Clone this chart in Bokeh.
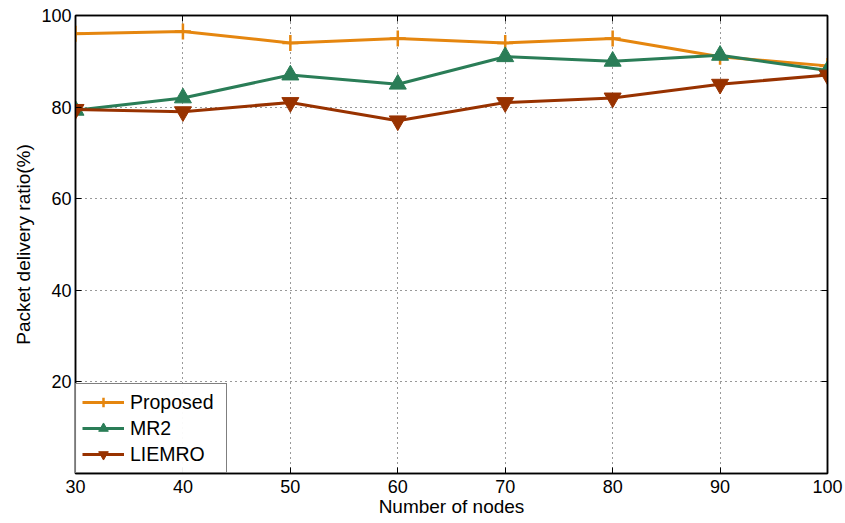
from bokeh.plotting import figure
from bokeh.models import FixedTicker, LinearAxis, Range1d, Legend, LegendItem
from bokeh.embed import file_html
from bokeh.resources import INLINE

nodes = [30, 40, 50, 60, 70, 80, 90, 100]
proposed = [96, 96.5, 94, 95, 94, 95, 91, 89]
mr2 = [79.3, 82, 87, 85, 91, 90, 91.3, 88]
liemro = [79.5, 79, 81, 77, 81, 82, 85, 87]
x_ticks = [30, 40, 50, 60, 70, 80, 90, 100]
y_ticks = [20, 40, 60, 80, 100]

FONT = "Liberation Sans"
C_PROP = "#E5860F"
C_MR2 = "#2A7D57"
C_LIEM = "#983200"

p = figure(width=845, height=523, output_backend="svg", toolbar_location=None,
           x_range=Range1d(30, 100), y_range=Range1d(0, 100),
           min_border_left=75, min_border_right=18, min_border_top=15, min_border_bottom=50)
p.outline_line_color = "black"
p.outline_line_width = 1.5

for ax in (p.xaxis[0], p.yaxis[0]):
    ax.major_tick_in = 6
    ax.major_tick_out = 0
    ax.minor_tick_line_color = None
    ax.major_label_text_font = FONT
    ax.major_label_text_font_size = "18px"
    ax.major_label_text_color = "black"
    ax.axis_label_text_font = FONT
    ax.axis_label_text_font_size = "19px"
    ax.axis_label_text_font_style = "normal"
    ax.axis_label_text_color = "black"
    ax.axis_line_color = "black"
    ax.axis_line_width = 1.5
    ax.major_tick_line_width = 1

p.xaxis.ticker = FixedTicker(ticks=x_ticks)
p.yaxis.ticker = FixedTicker(ticks=y_ticks)
p.xaxis.axis_label = "Number of nodes"
p.yaxis.axis_label = "Packet delivery ratio(%)"
p.xaxis.axis_label_standoff = 0
p.yaxis.axis_label_standoff = 4
p.xaxis.major_label_standoff = 6
p.yaxis.major_label_standoff = 4

for loc, tk in (("right", y_ticks), ("above", x_ticks)):
    a = LinearAxis(ticker=FixedTicker(ticks=tk))
    a.major_tick_in = 6
    a.major_tick_out = 0
    a.minor_tick_line_color = None
    a.major_label_text_color = None
    a.major_label_text_font_size = "1px"
    a.major_label_standoff = 0
    a.axis_line_color = "black"
    a.axis_line_width = 1.5
    p.add_layout(a, loc)

p.xgrid.ticker = FixedTicker(ticks=x_ticks)
p.ygrid.ticker = FixedTicker(ticks=y_ticks)
for g in (p.xgrid, p.ygrid):
    g.grid_line_color = "#333333"
    g.grid_line_dash = "1 4"
    g.grid_line_width = 1

l1 = p.line(nodes, proposed, line_color=C_PROP, line_width=3)
m1 = p.scatter(nodes, proposed, marker="cross", size=16, line_color=C_PROP, line_width=2.5)
l2 = p.line(nodes, mr2, line_color=C_MR2, line_width=3)
m2 = p.scatter(nodes, mr2, marker="triangle", size=17, fill_color=C_MR2, line_color=C_MR2)
l3 = p.line(nodes, liemro, line_color=C_LIEM, line_width=3)
m3 = p.scatter(nodes, liemro, marker="inverted_triangle", size=17, fill_color=C_LIEM, line_color=C_LIEM)

legend = Legend(items=[LegendItem(label="Proposed", renderers=[l1, m1]),
                       LegendItem(label="MR2", renderers=[l2, m2]),
                       LegendItem(label="LIEMRO", renderers=[l3, m3])],
                location="bottom_left")
legend.label_text_font = FONT
legend.label_text_font_size = "19.5px"
legend.label_text_color = "black"
legend.border_line_color = "black"
legend.border_line_width = 1.5
legend.margin = 0
legend.padding = 6
legend.spacing = 2
legend.glyph_width = 42
legend.glyph_height = 24
legend.label_standoff = 6
legend.label_height = 24
legend.label_width = 90
p.add_layout(legend)

open("out.html", "w").write(file_html(p, INLINE))
